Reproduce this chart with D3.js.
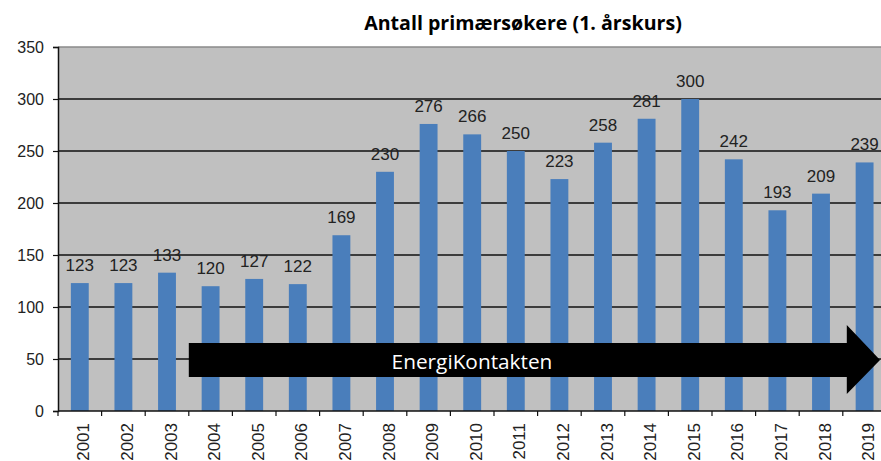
<!DOCTYPE html>
<html><head><meta charset="utf-8">
<script src="https://cdn.jsdelivr.net/npm/d3@7"></script>
<style>body{margin:0;background:#fff}svg{display:block}</style>
</head><body>
<script>
const years = ["2001","2002","2003","2004","2005","2006","2007","2008","2009","2010","2011","2012","2013","2014","2015","2016","2017","2018","2019"];
const applicants = [123,123,133,120,127,122,169,230,276,266,250,223,258,281,300,242,193,209,239];
const yTicks = [0,50,100,150,200,250,300,350];
const titleText = "Antall primærsøkere (1. årskurs)";
const arrowText = "EnergiKontakten";
const arrowFrom = "2004", arrowTo = "2019";
const arrowBody = [32.7, 65.4], arrowHead = [16.3, 82.7];

const W = 881, H = 461;
const m = {left:58, top:47, bottom:50};
const plotW = 19*43.6;
const svg = d3.select("body").append("svg").attr("width",W).attr("height",H);

const x = d3.scaleBand().domain(years).range([m.left, m.left+plotW]).paddingInner(0.59).paddingOuter(0.295);
const xb = d3.scaleBand().domain(years).range([m.left, m.left+plotW]);
const y = d3.scaleLinear().domain([0,350]).range([411, 47]);

// plot background
svg.append("rect").attr("x",m.left).attr("y",y(350)).attr("width",plotW).attr("height",y(0)-y(350)).attr("fill","#c0c0c0");
// top border
svg.append("line").attr("x1",m.left).attr("x2",m.left+plotW).attr("y1",y(350)).attr("y2",y(350)).attr("stroke","#8a8a8a").attr("stroke-width",1.5);
// gridlines
svg.append("g").selectAll("line").data(yTicks.filter(t=>t>0&&t<350)).join("line")
  .attr("x1",m.left).attr("x2",m.left+plotW).attr("y1",d=>y(d)).attr("y2",d=>y(d))
  .attr("stroke","#111").attr("stroke-width",1.5);

// bars
svg.append("g").selectAll("rect").data(years).join("rect")
  .attr("x",d=>x(d)).attr("width",x.bandwidth())
  .attr("y",(d,i)=>y(applicants[i])).attr("height",(d,i)=>y(0)-y(applicants[i]))
  .attr("fill","#4a7ebb");

// value labels
svg.append("g").selectAll("text").data(years).join("text")
  .attr("x",d=>x(d)+x.bandwidth()/2).attr("y",(d,i)=>y(applicants[i])-12)
  .attr("text-anchor","middle").attr("font-family","Liberation Sans, Arial, sans-serif")
  .attr("font-size",17).attr("fill","#222").text((d,i)=>applicants[i]);

// arrow annotation
const ax0 = xb(arrowFrom);
const hx0 = xb(arrowTo)+4;
const tip = W-1;
const ay = (arrowBody[0]+arrowBody[1])/2;
svg.append("path").attr("fill","#000").attr("d",
  `M${ax0},${y(arrowBody[1])} L${hx0},${y(arrowBody[1])} L${hx0},${y(arrowHead[1])} L${tip},${y(ay)} L${hx0},${y(arrowHead[0])} L${hx0},${y(arrowBody[0])} L${ax0},${y(arrowBody[0])} Z`);
svg.append("text").attr("x",472).attr("y",369).attr("text-anchor","middle")
  .attr("font-family","Open Sans, sans-serif").attr("font-size",20.8).attr("fill","#fff").text(arrowText);

// y axis
const yAxis = svg.append("g").attr("transform",`translate(${m.left},0)`)
  .call(d3.axisLeft(y).tickValues(yTicks).tickSize(5).tickPadding(9));
yAxis.select(".domain").attr("stroke","#111").attr("stroke-width",1.5);
yAxis.selectAll(".tick line").attr("stroke","#111").attr("stroke-width",1.2);
yAxis.selectAll("text").attr("font-family","Liberation Sans, Arial, sans-serif").attr("font-size",16).attr("fill","#222");

// x axis line and ticks at category boundaries
svg.append("line").attr("x1",m.left).attr("x2",m.left+plotW).attr("y1",y(0)).attr("y2",y(0)).attr("stroke","#111").attr("stroke-width",1.5);
svg.append("g").selectAll("line").data(years.concat(["end"])).join("line")
  .attr("x1",(d,i)=>m.left+i*xb.bandwidth()).attr("x2",(d,i)=>m.left+i*xb.bandwidth())
  .attr("y1",y(0)).attr("y2",y(0)+5).attr("stroke","#111").attr("stroke-width",1.2);
svg.append("g").selectAll("text").data(years).join("text")
  .attr("transform",d=>`translate(${xb(d)+xb.bandwidth()/2+9.5},423) rotate(-90)`)
  .attr("text-anchor","end").attr("font-family","Liberation Sans, Arial, sans-serif")
  .attr("font-size",17).attr("fill","#222").text(d=>d);

// title
svg.append("text").attr("x",523).attr("y",30).attr("text-anchor","middle")
  .attr("font-family","Open Sans, sans-serif").attr("font-weight","bold").attr("font-size",19.6)
  .attr("fill","#000").text(titleText);
</script>
</body></html>
